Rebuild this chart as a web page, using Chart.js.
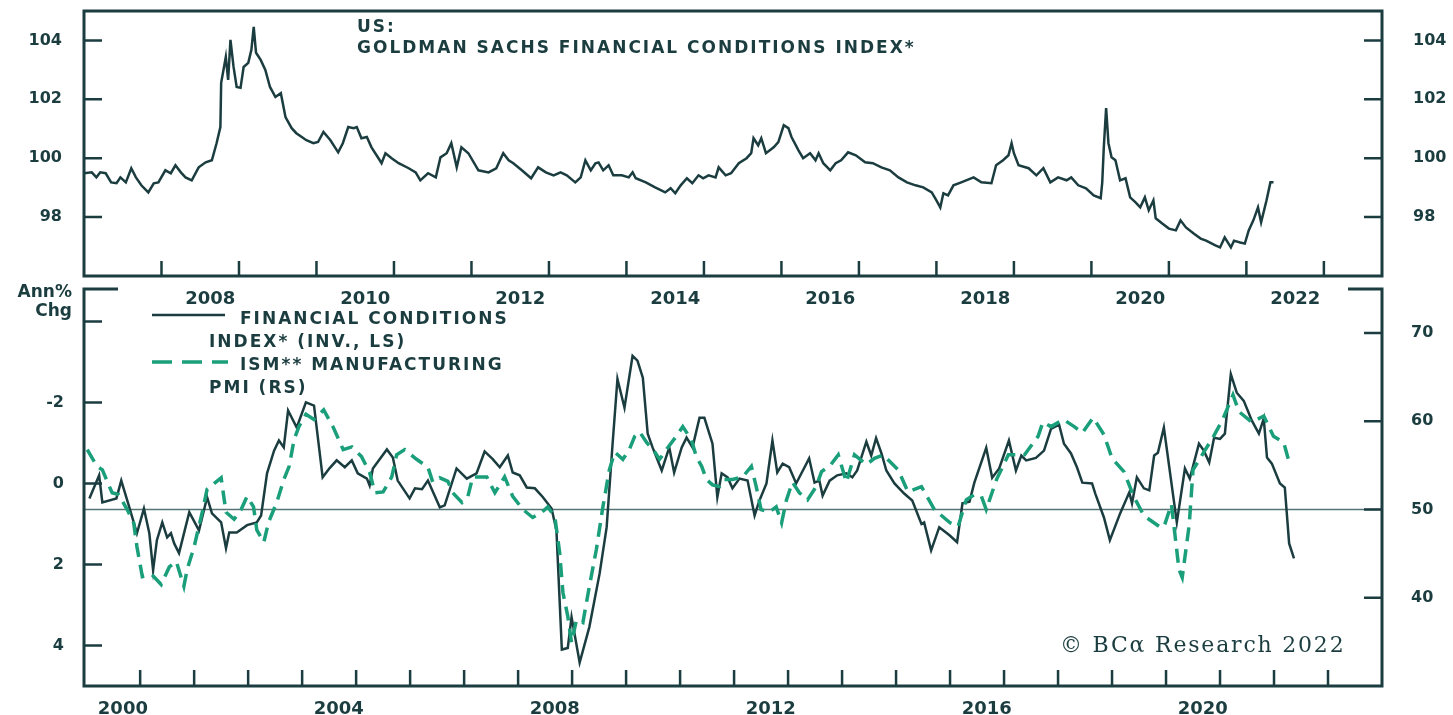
<!DOCTYPE html>
<html>
<head>
<meta charset="utf-8">
<script src="https://cdn.jsdelivr.net/npm/chart.js@4.4.1/dist/chart.umd.min.js"></script>
<style>
  html, body { margin: 0; padding: 0; background: #fff; }
  #wrap { position: relative; width: 1453px; height: 715px; overflow: hidden; color: #1b3d40; font-family: "DejaVu Sans", sans-serif; }
  canvas { position: absolute; left: 0; }
  #topChart { top: 0; }
  #bottomChart { top: 280px; }
  .t { position: absolute; font-weight: bold; font-size: 17px; letter-spacing: 2px; white-space: nowrap; line-height: 1; }
  .copy { position: absolute; font-family: "DejaVu Serif", serif; font-size: 22px; letter-spacing: 1.8px; white-space: nowrap; line-height: 1; }
</style>
</head>
<body>
<div id="wrap">
  <canvas id="topChart" width="1453" height="312"></canvas>
  <canvas id="bottomChart" width="1453" height="435"></canvas>

  <div class="t" style="left:357px;top:18px">US:</div>
  <div class="t" style="left:357px;top:39px">GOLDMAN SACHS FINANCIAL CONDITIONS INDEX*</div>

  <div class="t" style="left:0;top:283px;width:72px;text-align:right;letter-spacing:0">Ann%</div>
  <div class="t" style="left:0;top:302px;width:72px;text-align:right;letter-spacing:0">Chg</div>

  <svg style="position:absolute;left:150px;top:305px" width="82" height="66">
    <line x1="2" y1="10" x2="75" y2="10" stroke="#1b3d40" stroke-width="2.5"/>
    <line x1="2" y1="57" x2="78" y2="57" stroke="#1a9f7a" stroke-width="3.5" stroke-dasharray="20 10"/>
  </svg>
  <div class="t" style="left:240px;top:310px">FINANCIAL CONDITIONS</div>
  <div class="t" style="left:209px;top:333px">INDEX* (INV., LS)</div>
  <div class="t" style="left:240px;top:356px">ISM** MANUFACTURING</div>
  <div class="t" style="left:209px;top:379px">PMI (RS)</div>

  <div class="copy" style="left:1060px;top:634px">© BCα Research 2022</div>
</div>

<script>
// Goldman Sachs FCI level (top panel)
const fciLevelDates = [
  2007.0, 2007.1, 2007.16, 2007.21, 2007.28, 2007.35, 2007.42, 2007.47, 2007.54, 2007.61,
  2007.67, 2007.74, 2007.83, 2007.9, 2007.96, 2008.05, 2008.12, 2008.18, 2008.25, 2008.31,
  2008.39, 2008.48, 2008.57, 2008.65, 2008.71, 2008.76, 2008.77, 2008.83, 2008.86, 2008.89,
  2008.93, 2008.97, 2009.02, 2009.06, 2009.12, 2009.16, 2009.19, 2009.22, 2009.28, 2009.34,
  2009.4, 2009.47, 2009.54, 2009.6, 2009.68, 2009.74, 2009.81, 2009.87, 2009.96, 2010.02,
  2010.09, 2010.18, 2010.28, 2010.34, 2010.41, 2010.48, 2010.52, 2010.58, 2010.65, 2010.71,
  2010.8, 2010.84, 2010.89, 2010.97, 2011.06, 2011.19, 2011.28, 2011.34, 2011.44, 2011.54,
  2011.6, 2011.68, 2011.74, 2011.81, 2011.87, 2011.96, 2012.09, 2012.22, 2012.32, 2012.35,
  2012.41, 2012.48, 2012.54, 2012.65, 2012.77, 2012.86, 2012.96, 2013.06, 2013.15, 2013.23,
  2013.34, 2013.41, 2013.47, 2013.54, 2013.6, 2013.64, 2013.7, 2013.77, 2013.83, 2013.94,
  2014.03, 2014.08, 2014.12, 2014.25, 2014.37, 2014.5, 2014.57, 2014.63, 2014.7, 2014.78,
  2014.85, 2014.93, 2014.99, 2015.06, 2015.15, 2015.19, 2015.28, 2015.35, 2015.45, 2015.55,
  2015.61, 2015.64, 2015.7, 2015.74, 2015.8, 2015.9, 2015.96, 2016.03, 2016.09, 2016.13,
  2016.22, 2016.28, 2016.37, 2016.44, 2016.48, 2016.54, 2016.63, 2016.7, 2016.77, 2016.86,
  2016.96, 2017.08, 2017.18, 2017.29, 2017.4, 2017.51, 2017.62, 2017.73, 2017.83, 2017.94,
  2018.0, 2018.05, 2018.09, 2018.15, 2018.22, 2018.32, 2018.48, 2018.58, 2018.71, 2018.77,
  2018.86, 2018.93, 2018.97, 2019.0, 2019.06, 2019.19, 2019.29, 2019.38, 2019.47, 2019.57,
  2019.68, 2019.74, 2019.83, 2019.93, 2020.03, 2020.12, 2020.14, 2020.16, 2020.19, 2020.22,
  2020.26, 2020.31, 2020.37, 2020.44, 2020.5, 2020.57, 2020.63, 2020.69, 2020.74, 2020.8,
  2020.83, 2020.91, 2021.0, 2021.09, 2021.15, 2021.22, 2021.32, 2021.41, 2021.48, 2021.6,
  2021.66, 2021.72, 2021.8, 2021.84, 2021.92, 2021.98, 2022.03, 2022.09, 2022.15, 2022.19,
  2022.26, 2022.31, 2022.35
];
const fciLevelValues = [
  99.49, 99.52, 99.35, 99.52, 99.49, 99.18, 99.15, 99.35, 99.18, 99.66,
  99.35, 99.08, 98.84, 99.15, 99.18, 99.59, 99.49, 99.76, 99.52, 99.35,
  99.25, 99.69, 99.86, 99.93, 100.5, 101.06, 102.56, 103.44, 102.66, 104.02,
  103.1, 102.42, 102.39, 103.1, 103.24, 103.68, 104.46, 103.58, 103.34, 103.0,
  102.42, 102.08, 102.21, 101.4, 101.02, 100.85, 100.72, 100.61, 100.51, 100.55,
  100.89, 100.61, 100.2, 100.51, 101.06, 101.02, 101.06, 100.68, 100.72, 100.37,
  100.0, 99.83, 100.17, 100.0, 99.83, 99.66, 99.52, 99.25, 99.49, 99.35,
  100.03, 100.17, 100.51, 99.69, 100.37, 100.17, 99.59, 99.52, 99.66, 99.83,
  100.17, 99.93, 99.83, 99.59, 99.32, 99.69, 99.52, 99.42, 99.52, 99.42,
  99.18, 99.35, 99.93, 99.59, 99.83, 99.86, 99.59, 99.76, 99.42, 99.42,
  99.35, 99.52, 99.32, 99.18, 99.01, 98.84, 98.98, 98.81, 99.08, 99.32,
  99.15, 99.42, 99.32, 99.42, 99.35, 99.69, 99.42, 99.49, 99.83, 100.0,
  100.17, 100.68, 100.44, 100.68, 100.17, 100.37, 100.55, 101.12, 101.02, 100.72,
  100.27, 100.0, 100.17, 99.93, 100.17, 99.83, 99.59, 99.83, 99.93, 100.2,
  100.1, 99.86, 99.83, 99.69, 99.59, 99.35, 99.18, 99.08, 99.01, 98.84,
  98.57, 98.33, 98.81, 98.74, 99.08, 99.18, 99.35, 99.18, 99.15, 99.76,
  99.93, 100.1, 100.51, 100.17, 99.76, 99.66, 99.42, 99.66, 99.18, 99.35,
  99.25, 99.35, 99.08, 98.98, 98.74, 98.64, 99.18, 100.37, 101.7, 100.51,
  100.03, 99.93, 99.25, 99.32, 98.67, 98.5, 98.33, 98.67, 98.23, 98.57,
  97.96, 97.79, 97.61, 97.55, 97.89, 97.65, 97.44, 97.27, 97.2, 97.04,
  96.97, 97.31, 96.97, 97.2, 97.14, 97.1, 97.55, 97.89, 98.33, 97.82,
  98.57, 99.18, 99.18
];

// FCI annual % change, inverted (bottom panel, left scale)
const fciChgDates = [
  2000.06, 2000.24, 2000.3, 2000.56, 2000.65, 2000.8, 2000.94, 2001.07, 2001.17, 2001.24,
  2001.31, 2001.41, 2001.5, 2001.57, 2001.63, 2001.72, 2001.91, 2002.09, 2002.24, 2002.33,
  2002.5, 2002.59, 2002.65, 2002.79, 2002.98, 2003.16, 2003.24, 2003.35, 2003.48, 2003.57,
  2003.66, 2003.74, 2003.9, 2004.07, 2004.22, 2004.38, 2004.51, 2004.64, 2004.79, 2004.92,
  2005.03, 2005.2, 2005.25, 2005.31, 2005.57, 2005.68, 2005.77, 2005.99, 2006.09, 2006.22,
  2006.33, 2006.55, 2006.64, 2006.86, 2007.05, 2007.23, 2007.38, 2007.53, 2007.66, 2007.81,
  2007.9, 2008.03, 2008.16, 2008.31, 2008.46, 2008.62, 2008.71, 2008.81, 2008.92, 2008.99,
  2009.14, 2009.32, 2009.51, 2009.64, 2009.75, 2009.84, 2009.97, 2010.12, 2010.21, 2010.31,
  2010.4, 2010.49, 2010.66, 2010.8, 2010.89, 2011.03, 2011.12, 2011.23, 2011.36, 2011.45,
  2011.6, 2011.69, 2011.77, 2011.88, 2011.97, 2012.1, 2012.25, 2012.38, 2012.47, 2012.6,
  2012.71, 2012.8, 2012.9, 2013.02, 2013.15, 2013.39, 2013.49, 2013.58, 2013.64, 2013.77,
  2013.91, 2014.08, 2014.19, 2014.28, 2014.45, 2014.54, 2014.63, 2014.73, 2014.82, 2014.97,
  2015.15, 2015.3, 2015.47, 2015.52, 2015.65, 2015.8, 2015.99, 2016.13, 2016.23, 2016.36,
  2016.45, 2016.67, 2016.78, 2016.91, 2017.09, 2017.22, 2017.32, 2017.41, 2017.59, 2017.74,
  2017.87, 2018.02, 2018.11, 2018.24, 2018.35, 2018.45, 2018.63, 2018.69, 2018.85, 2018.96,
  2019.15, 2019.32, 2019.37, 2019.46, 2019.59, 2019.69, 2019.78, 2019.85, 2019.96, 2020.2,
  2020.35, 2020.44, 2020.61, 2020.7, 2020.8, 2020.89, 2021.0, 2021.09, 2021.2, 2021.31,
  2021.44, 2021.59, 2021.72, 2021.81, 2021.87, 2021.96, 2022.11, 2022.2, 2022.28, 2022.37
];
const fciChgValues = [
  0.37, -0.2, 0.47, 0.37, -0.07, 0.59, 1.23, 0.62, 1.23, 2.14,
  1.4, 0.96, 1.33, 1.23, 1.48, 1.72, 0.71, 1.16, 0.34, 0.74,
  0.96, 1.6, 1.21, 1.21, 1.03, 0.96, 0.79, -0.25, -0.81, -1.06,
  -0.89, -1.8, -1.38, -2.0, -1.92, -0.15, -0.38, -0.57, -0.4, -0.57,
  -0.25, -0.12, 0.05, -0.37, -0.84, -0.64, -0.07, 0.37, 0.12, 0.14,
  -0.07, 0.59, 0.54, -0.37, -0.12, -0.25, -0.79, -0.6, -0.4, -0.69,
  -0.27, -0.2, 0.1, 0.12, 0.34, 0.62, 1.16, 4.1, 4.06, 3.3,
  4.42, 3.54, 2.22, 1.08, -0.98, -2.58, -1.87, -3.15, -3.03, -2.61,
  -1.23, -0.89, -0.32, -0.89, -0.27, -0.89, -1.13, -0.89, -1.62, -1.62,
  -0.98, 0.34, -0.25, -0.15, 0.12, -0.12, -0.07, 0.79, 0.42, 0.0,
  -1.06, -0.27, -0.49, -0.4, 0.0, -0.62, -0.02, -0.07, 0.3, -0.07,
  -0.2, -0.25, -0.15, -0.32, -1.03, -0.69, -1.12, -0.74, -0.32, 0.0,
  0.25, 0.42, 1.0, 0.96, 1.65, 1.08, 1.28, 1.45, 0.49, 0.45,
  -0.02, -0.88, -0.14, -0.37, -1.06, -0.32, -0.69, -0.57, -0.63, -0.81,
  -1.35, -1.45, -0.98, -0.74, -0.4, -0.02, 0.0, 0.25, 0.84, 1.4,
  0.74, 0.22, 0.49, -0.15, 0.12, 0.17, -0.69, -0.76, -1.38, 0.96,
  -0.37, -0.12, -0.98, -0.81, -0.52, -1.13, -1.1, -1.23, -2.7, -2.24,
  -2.04, -1.55, -1.23, -1.6, -0.64, -0.49, 0.0, 0.1, 1.48, 1.85
];

// ISM manufacturing PMI (bottom panel, right scale)
const ismDates = [
  2000.02, 2000.2, 2000.3, 2000.48, 2000.6, 2000.76, 2000.88, 2000.94, 2001.04, 2001.22,
  2001.39, 2001.54, 2001.67, 2001.81, 2001.87, 2002.0, 2002.15, 2002.24, 2002.5, 2002.59,
  2002.74, 2002.87, 2002.98, 2003.1, 2003.16, 2003.29, 2003.38, 2003.53, 2003.66, 2003.76,
  2003.85, 2003.94, 2004.07, 2004.22, 2004.4, 2004.57, 2004.76, 2004.92, 2005.1, 2005.25,
  2005.35, 2005.5, 2005.66, 2005.75, 2005.9, 2006.12, 2006.33, 2006.42, 2006.55, 2006.7,
  2006.79, 2006.96, 2007.07, 2007.16, 2007.42, 2007.57, 2007.75, 2007.9, 2008.09, 2008.27,
  2008.44, 2008.55, 2008.68, 2008.77, 2008.83, 2008.92, 2008.99, 2009.08, 2009.2, 2009.32,
  2009.45, 2009.57, 2009.69, 2009.79, 2009.94, 2010.06, 2010.16, 2010.25, 2010.38, 2010.5,
  2010.62, 2010.77, 2010.93, 2011.05, 2011.21, 2011.3, 2011.4, 2011.49, 2011.6, 2011.73,
  2011.82, 2011.97, 2012.16, 2012.32, 2012.41, 2012.5, 2012.65, 2012.78, 2012.88, 2012.97,
  2013.08, 2013.21, 2013.36, 2013.52, 2013.62, 2013.78, 2013.93, 2014.08, 2014.23, 2014.45,
  2014.6, 2014.76, 2015.04, 2015.22, 2015.47, 2015.71, 2016.0, 2016.15, 2016.3, 2016.45,
  2016.58, 2016.67, 2016.86, 2017.08, 2017.38, 2017.63, 2017.72, 2017.87, 2018.1, 2018.3,
  2018.45, 2018.65, 2018.85, 2019.0, 2019.22, 2019.4, 2019.59, 2019.87, 2019.96, 2020.1,
  2020.24, 2020.3, 2020.43, 2020.5, 2020.7, 2020.89, 2021.05, 2021.24, 2021.35, 2021.59,
  2021.81, 2021.99, 2022.18, 2022.27
];
const ismValues = [
  56.8, 54.9, 54.5, 51.9, 51.7, 50.0, 48.5, 45.8, 42.4, 42.6,
  41.5, 43.5, 44.1, 41.3, 43.2, 45.8, 49.7, 52.3, 53.6, 49.7,
  48.9, 50.0, 51.5, 50.3, 47.7, 46.3, 48.6, 50.8, 53.4, 54.9,
  57.9, 59.4, 60.8, 60.2, 61.3, 59.4, 56.8, 57.1, 56.0, 54.2,
  51.9, 52.0, 53.7, 56.2, 56.8, 55.7, 54.8, 53.1, 53.6, 53.2,
  51.9, 50.8, 51.5, 53.7, 53.7, 51.9, 53.7, 51.5, 50.0, 49.1,
  49.7, 50.3, 49.2, 45.1, 40.6, 37.9, 34.9, 37.5, 37.2, 41.3,
  45.5, 50.3, 54.5, 56.5, 55.7, 56.8, 58.3, 58.8, 57.6, 56.8,
  55.7, 57.0, 58.3, 59.4, 57.9, 56.0, 54.9, 53.4, 52.8, 52.6,
  53.4, 53.4, 53.7, 54.9, 52.6, 50.0, 49.7, 50.3, 48.5, 51.1,
  53.1, 51.9, 51.1, 52.6, 54.3, 55.0, 56.2, 53.1, 56.2, 55.1,
  55.8, 56.2, 54.5, 52.0, 52.6, 50.0, 48.5, 48.1, 51.1, 51.7,
  51.5, 50.0, 53.4, 56.2, 56.2, 58.3, 59.9, 59.4, 60.2, 59.4,
  58.7, 60.4, 58.5, 55.8, 54.3, 51.5, 49.3, 48.1, 48.0, 50.6,
  43.2, 42.3, 48.3, 54.5, 56.5, 58.4, 60.2, 63.0, 61.1, 59.9,
  60.6, 58.3, 57.6, 55.6
];
const pmiNeutral = 50;

// axis ticks and labels
const fciLevelTicks = [98, 100, 102, 104];
const chgTicks = [-4, -2, 0, 2, 4];
const chgTickLabels = ['', '-2', '0', '2', '4'];
const pmiTicks = [40, 50, 60, 70];
const topYearLabels = [2008, 2010, 2012, 2014, 2016, 2018, 2020, 2022];
const topYearMarks = [2008, 2009, 2010, 2011, 2012, 2013, 2014, 2015, 2016, 2017, 2018, 2019, 2020, 2021, 2022, 2023];
const bottomYearLabels = [2000, 2004, 2008, 2012, 2016, 2020];
const bottomYearMarks = [2001, 2002, 2003, 2004, 2005, 2006, 2007, 2008, 2009, 2010, 2011, 2012,
  2013, 2014, 2015, 2016, 2017, 2018, 2019, 2020, 2021, 2022, 2023];

const ink = '#1b3d40';
const green = '#1a9f7a';
const xFont = { family: 'DejaVu Sans', weight: 'bold', size: 18 };
const yFont = { family: 'DejaVu Sans', weight: 'bold', size: 16 };

const pts = (xs, ys) => xs.map((x, i) => ({ x, y: ys[i] }));

// frame around the plot area and inward tick marks, placed with the scales
const frameTicks = {
  id: 'frameTicks',
  afterDraw(chart, args, o) {
    const { ctx, chartArea: a, scales } = chart;
    ctx.save();
    ctx.strokeStyle = ink;
    ctx.lineWidth = 3;
    ctx.beginPath();
    if (o.closed) {
      ctx.rect(a.left, a.top, a.right - a.left, a.bottom - a.top);
    } else {
      ctx.moveTo(a.left + o.cap, a.top);
      ctx.lineTo(a.left, a.top);
      ctx.lineTo(a.left, a.bottom);
      ctx.lineTo(a.right, a.bottom);
      ctx.lineTo(a.right, a.top);
      ctx.lineTo(a.right - o.cap, a.top);
    }
    ctx.stroke();
    ctx.lineWidth = 2.5;
    ctx.beginPath();
    o.marks.forEach(m => {
      const s = scales[m.axis];
      m.values.forEach(v => {
        const p = s.getPixelForValue(v);
        if (s.axis === 'x') { ctx.moveTo(p, a.bottom); ctx.lineTo(p, a.bottom - m.len); }
        else if (s.position === 'left') { ctx.moveTo(a.left, p); ctx.lineTo(a.left + m.len, p); }
        else { ctx.moveTo(a.right, p); ctx.lineTo(a.right - m.len, p); }
      });
    });
    ctx.stroke();
    ctx.restore();
  }
};

function xAxis(min, max, labels, offset, height) {
  return {
    type: 'linear', min, max,
    grid: { display: false }, border: { display: false },
    afterBuildTicks: s => { s.ticks = labels.map(y => ({ value: y + offset })); },
    afterFit: s => { s.height = height; s.paddingLeft = 0; s.paddingRight = 0; },
    ticks: { autoSkip: false, maxRotation: 0, padding: 5, color: ink, font: xFont,
             callback: (v, i) => String(labels[i]) }
  };
}

function yAxis(position, min, max, values, labels, width, pad, reverse) {
  return {
    type: 'linear', position, min, max, reverse: !!reverse,
    grid: { display: false }, border: { display: false },
    afterBuildTicks: s => { s.ticks = values.map(v => ({ value: v })); },
    afterFit: s => { s.width = width; s.paddingTop = 0; s.paddingBottom = 0; },
    ticks: { autoSkip: false, padding: pad, color: ink, font: yFont,
             callback: (v, i) => labels[i] }
  };
}

new Chart(document.getElementById('topChart'), {
  type: 'line',
  data: {
    datasets: [{
      data: pts(fciLevelDates, fciLevelValues),
      borderColor: ink, borderWidth: 2.5, pointRadius: 0, tension: 0, yAxisID: 'y'
    }]
  },
  options: {
    responsive: false, animation: false, events: [],
    layout: { autoPadding: false, padding: { top: 11, left: 0, right: 0, bottom: 0 } },
    plugins: {
      legend: { display: false }, tooltip: { enabled: false },
      frameTicks: {
        closed: true,
        marks: [
          { axis: 'x', values: topYearMarks, len: 15 },
          { axis: 'y', values: fciLevelTicks, len: 18 },
          { axis: 'y2', values: fciLevelTicks, len: 18 }
        ]
      }
    },
    scales: {
      x: xAxis(2007, 2023.75, topYearLabels, 0.63, 36),
      y: yAxis('left', 96, 105, fciLevelTicks, fciLevelTicks.map(String), 84, 14),
      y2: yAxis('right', 96, 105, fciLevelTicks, fciLevelTicks.map(String), 71, 23)
    }
  },
  plugins: [frameTicks]
});

new Chart(document.getElementById('bottomChart'), {
  type: 'line',
  data: {
    datasets: [
      {
        data: pts(ismDates, ismValues), yAxisID: 'yR', order: 1,
        borderColor: green, borderWidth: 3.5, borderDash: [14, 8], pointRadius: 0, tension: 0
      },
      {
        data: pts(fciChgDates, fciChgValues), yAxisID: 'yL', order: 2,
        borderColor: ink, borderWidth: 2.5, pointRadius: 0, tension: 0
      },
      {
        data: [{ x: 1999.96, y: pmiNeutral }, { x: 2024, y: pmiNeutral }], yAxisID: 'yR', order: 3,
        borderColor: '#557476', borderWidth: 1.5, pointRadius: 0
      }
    ]
  },
  options: {
    responsive: false, animation: false, events: [],
    layout: { autoPadding: false, padding: { top: 9, left: 0, right: 0, bottom: 0 } },
    plugins: {
      legend: { display: false }, tooltip: { enabled: false },
      frameTicks: {
        closed: false, cap: 34,
        marks: [
          { axis: 'x', values: bottomYearMarks, len: 16 },
          { axis: 'yL', values: chgTicks, len: 18 },
          { axis: 'yR', values: pmiTicks, len: 18 }
        ]
      }
    },
    scales: {
      x: xAxis(1999.96, 2024, bottomYearLabels, 0.68, 29),
      yL: yAxis('left', -4.8, 5, chgTicks, chgTickLabels, 84, 12, true),
      yR: yAxis('right', 30, 75, pmiTicks, pmiTicks.map(String), 71, 21)
    }
  },
  plugins: [frameTicks]
});
</script>
</body>
</html>
